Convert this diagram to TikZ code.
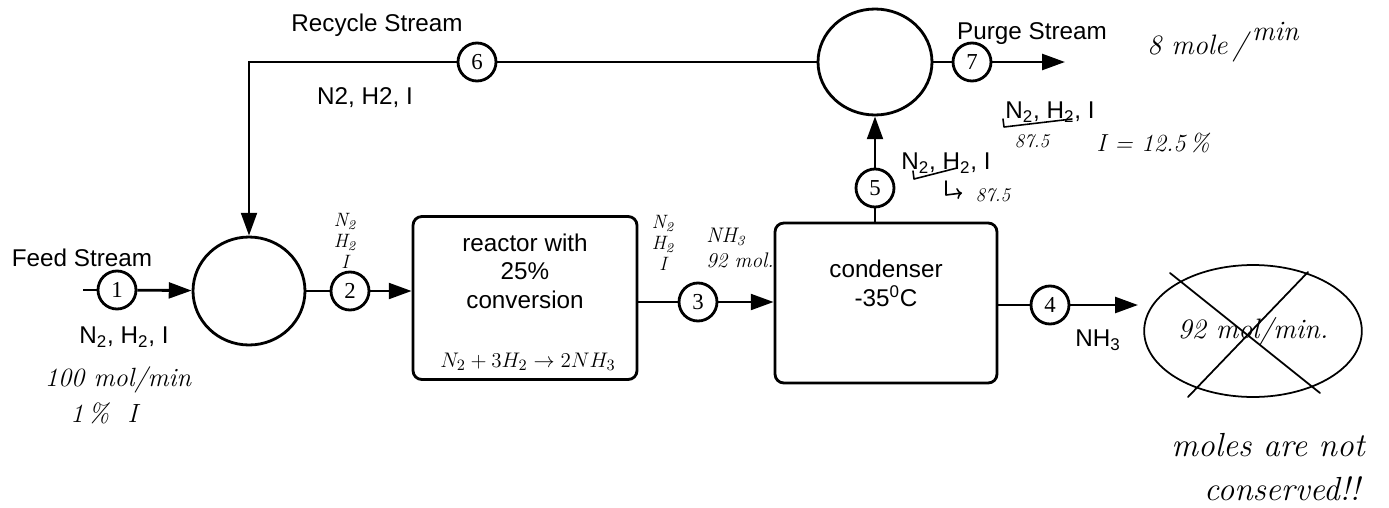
\documentclass[tikz,border=0pt]{standalone}
\usepackage{amsmath}
\usepackage{fontspec}
\setsansfont{Liberation Sans}
\newfontfamily\numfont{Liberation Serif}
\usepackage{tikz}
\usetikzlibrary{arrows.meta,shapes.geometric,calc}
\tikzset{
  pLine/.style={line width=1.6pt},
  pFlow/.style={pLine,-{Triangle[length=13pt,width=9pt]}},
  pHandLine/.style={line width=.9pt,line cap=round,line join=round},
  pBox/.style={draw,pLine,rounded corners=5pt,align=center,
        font=\sffamily\fontsize{13.8}{16.5}\selectfont},
  pUnit/.style={draw,pLine,ellipse,inner sep=0pt},
  pStream/.style={draw,pLine,circle,minimum size=.76cm,inner sep=0pt,
        font=\numfont\fontsize{13}{13}\selectfont,fill=white},
  pLabel/.style={font=\sffamily\fontsize{13.8}{16}\selectfont,inner sep=1pt},
  pHand/.style={font=\itshape\fontsize{15}{18}\selectfont,inner sep=1pt,align=center},
  pHandSmall/.style={font=\itshape\fontsize{11}{12}\selectfont,inner sep=1pt,align=center},
  pHandBig/.style={font=\itshape\fontsize{19}{24}\selectfont,inner sep=1pt},
}
\begin{document}
\begin{tikzpicture}[x=0.02cm,y=-0.02cm]
\useasboundingbox (0,0) rectangle (1389,507);
\node[pLabel]  (feedlbl)  at (82,258)   {Feed Stream};
\coordinate    (feedin)   at (83,290);
\node[pStream] (s1)       at (117,290)  {1};
\node[pUnit,minimum width=2.24cm,minimum height=2.16cm] (mix) at (249,291) {};
\node[pStream] (s2)       at (350,291)  {2};
\node[pBox,minimum width=4.48cm,minimum height=3.26cm] (reactor) at (525,298)
      {reactor with\\25\%\\conversion\\[14pt]};
\node[pStream] (s3)       at (698,302)  {3};
\node[pBox,minimum width=4.44cm,minimum height=3.2cm] (cond) at (886,303)
      {condenser\\-35\textsuperscript{0}C\\[6pt]};
\node[pStream] (s4)       at (1050,305) {4};
\coordinate    (prodout)  at (1138,305);
\node[pStream] (s5)       at (875,188)  {5};
\node[pUnit,minimum width=2.28cm,minimum height=2.12cm] (split) at (875,62) {};
\node[pStream] (s7)       at (972,62)   {7};
\coordinate    (purgeout) at (1065,62);
\node[pStream] (s6)       at (477,62)   {6};
\node[pLabel]  (recyclbl) at (377,25)   {Recycle Stream};
\node[pLabel]  (recycomp) at (365,98)   {N2, H2, I};
\node[pLabel]  (purgelbl) at (1032,34)  {Purge Stream};
\node[pLabel]  (feedcomp) at (124,337)  {N\textsubscript{2}, H\textsubscript{2}, I};
\node[pLabel]  (s5comp)   at (946,163)  {N\textsubscript{2}, H\textsubscript{2}, I};
\node[pLabel]  (purgecomp) at (1050,112) {N\textsubscript{2}, H\textsubscript{2}, I};
\node[pLabel]  (prodcomp) at (1098,340) {NH\textsubscript{3}};
\draw[pLine] (feedin) -- (s1);
\draw[pFlow] (s1) -- (mix);
\draw[pLine] (mix) -- (s2);
\draw[pFlow] (s2) -- (s2 -| reactor.west);
\draw[pLine] (reactor.east |- s3) -- (s3);
\draw[pFlow] (s3) -- (s3 -| cond.west);
\draw[pLine] (s4 -| cond.east) -- (s4);
\draw[pFlow] (s4) -- (prodout);
\draw[pLine] (s5 |- cond.north) -- (s5);
\draw[pFlow] (s5) -- (split);
\draw[pLine] (split) -- (s7);
\draw[pFlow] (s7) -- (purgeout);
\draw[pLine] (split) -- (s6);
\draw[pFlow] (s6) -- (mix |- s6) -- (mix);
\node[pHand]      (feedrate)  at (118,380)  {100 mol/min};
\node[pHand]      (feedinert) at (104,413)  {1\,\% \ I};
\node[pHandSmall] (s2note)    at (345,241)  {N\textsubscript{2}\\H\textsubscript{2}\\I};
\node[pHandSmall,font=\fontsize{13}{14}\selectfont] (rxn) at (528,362)
      {$N_2+3H_2\rightarrow 2NH_3$};
\node[pHandSmall] (s3note)    at (663,243)  {N\textsubscript{2}\\H\textsubscript{2}\\I};
\node[pHandSmall,align=left,font=\itshape\fontsize{12}{14}\selectfont] (s3nh3) at (740,248)
      {NH\textsubscript{3}\\92 mol.};
\draw[pHandLine] (913,171) -- (914,179) -- (957,168);
\draw[pHandLine,-{To[length=3pt]}] (946,181) -- (946,195) -- (962,193);
\node[pHandSmall] (s5val)     at (993,195)  {87.5};
\draw[pHandLine] (1003,119) -- (1004,127) -- (1072,119);
\node[pHandSmall] (purgeval)  at (1032,141) {87.5};
\node[pHand,font=\itshape\fontsize{14}{16}\selectfont] (purgeinert) at (1153,143) {I = 12.5\,\%};
\node[pHand,font=\itshape\fontsize{16}{18}\selectfont] (purgerate) at (1223,42)
      {8 mole\,{\LARGE /}\,\raisebox{1.1ex}{min}};
\node[pHand,ellipse,draw,line width=1pt,minimum width=4.2cm,minimum height=2.64cm,
      font=\itshape\fontsize{16}{18}\selectfont] (prodrate) at (1253,331) {92 mol/min.};
\draw[pHandLine,line width=1pt] ($(prodrate)+(-83,-58)$) -- ($(prodrate)+(67,62)$);
\draw[pHandLine,line width=1pt] ($(prodrate)+(55,-59)$) -- ($(prodrate)+(-65,66)$);
\node[pHandBig]   (warning)   at (1268,445) {moles are not};
\node[pHandBig]   (warning2)  at (1282,489) {conserved!!};
\end{tikzpicture}
\end{document}
